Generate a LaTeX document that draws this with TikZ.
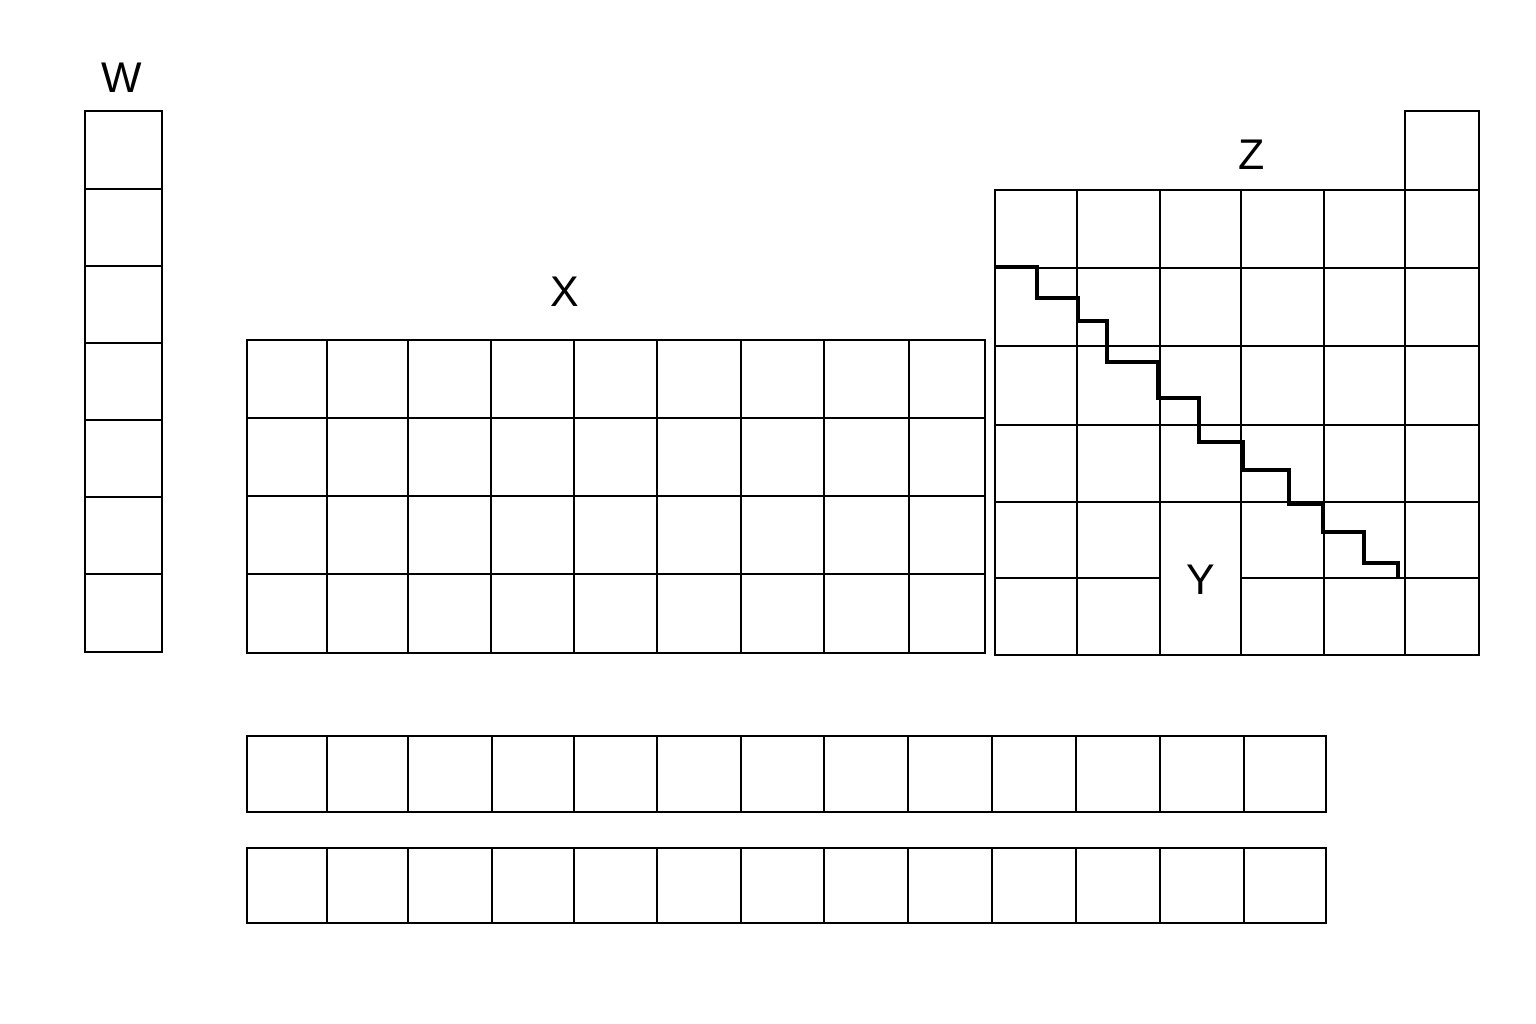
\documentclass[tikz,border=0pt]{standalone}
\usepackage{fontspec}
\setmainfont{Liberation Sans}
\usetikzlibrary{positioning}

\begin{document}
\begin{tikzpicture}[
          x=0.01cm, y=-0.01cm,
          cell/.style={line width=0.7pt},
          stair/.style={line width=1.3pt},
          group/.style={font=\fontsize{12.2}{14}\selectfont}
        ]
          \useasboundingbox (0,0) rectangle (1536,1024);
          % column W
          \draw[cell] (85,111) rectangle (162,652);
          \foreach \y in {189,266,343,420,497,574}
            \draw[cell] (85,\y) -- (162,\y);
          \node[group] (wlabel) at (122,78) {W};
          % block X
          \draw[cell] (247,340) rectangle (985,653);
          \foreach \x in {327,408,491,574,657,741,824,909}
            \draw[cell] (\x,340) -- (\x,653);
          \foreach \y in {418,496,574}
            \draw[cell] (247,\y) -- (985,\y);
          \node[group] (xlabel) at (565,292) {X};
          % block Z
          \draw[cell] (995,190) rectangle (1479,655);
          \draw[cell] (1405,111) rectangle (1479,190);
          \foreach \x in {1077,1160,1241,1324,1405}
            \draw[cell] (\x,190) -- (\x,655);
          \foreach \y in {268,346,425,502}
            \draw[cell] (995,\y) -- (1479,\y);
          \draw[cell] (995,578) -- (1160,578);
          \draw[cell] (1241,578) -- (1479,578);
          \node[group] (zlabel) at (1252,155) {Z};
          \node[group] (ylabel) at (1201,580) {Y};
          % staircase
          \draw[stair] (995,267) -| (1037,298) -| (1078,321) -| (1107,362)
            -| (1158,398) -| (1199,442) -| (1243,470) -| (1289,504)
            -| (1323,532) -| (1364,563) -| (1398,577);
          % bottom rows
          \foreach \top/\bot in {736/812, 848/923} {
            \draw[cell] (247,\top) rectangle (1326,\bot);
            \foreach \x in {327,408,492,574,657,741,824,908,992,1076,1160,1244}
              \draw[cell] (\x,\top) -- (\x,\bot);
          }
        \end{tikzpicture}
\end{document}
